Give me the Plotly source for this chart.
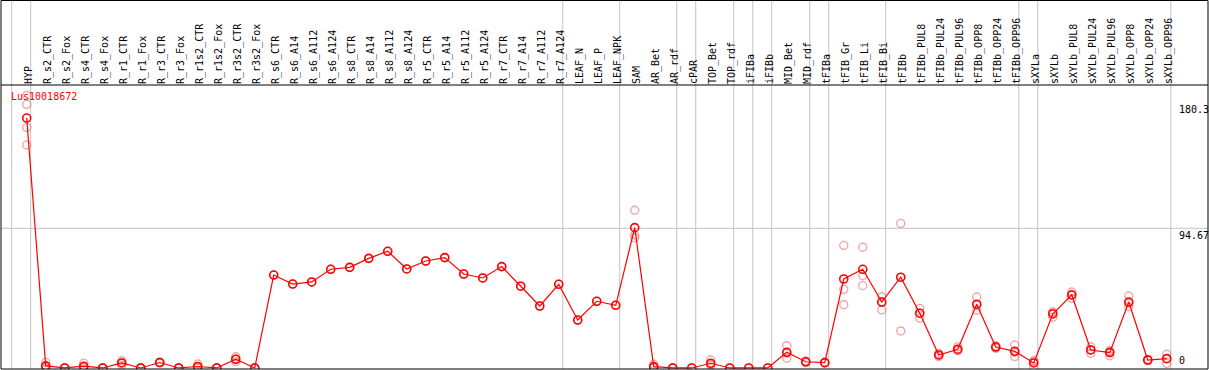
import plotly.graph_objects as go

# ---------------- data ----------------
categories = [
    "HYP",
    "R_s2_CTR", "R_s2_Fox", "R_s4_CTR", "R_s4_Fox", "R_r1_CTR", "R_r1_Fox",
    "R_r3_CTR", "R_r3_Fox", "R_r1s2_CTR", "R_r1s2_Fox", "R_r3s2_CTR", "R_r3s2_Fox",
    "R_s6_CTR", "R_s6_A14", "R_s6_A112", "R_s6_A124",
    "R_s8_CTR", "R_s8_A14", "R_s8_A112", "R_s8_A124",
    "R_r5_CTR", "R_r5_A14", "R_r5_A112", "R_r5_A124",
    "R_r7_CTR", "R_r7_A14", "R_r7_A112", "R_r7_A124",
    "LEAF_N", "LEAF_P", "LEAF_NPK",
    "SAM", "AR_Bet", "AR_rdf",
    "cPAR",
    "TOP_Bet", "TOP_rdf",
    "iFIBa", "iFIBb",
    "MID_Bet", "MID_rdf",
    "tFIBa",
    "tFIB_Gr", "tFIB_Li", "tFIB_Bi",
    "tFIBb", "tFIBb_PUL8", "tFIBb_PUL24", "tFIBb_PUL96",
    "tFIBb_OPP8", "tFIBb_OPP24", "tFIBb_OPP96",
    "sXYLa",
    "sXYLb", "sXYLb_PUL8", "sXYLb_PUL24", "sXYLb_PUL96",
    "sXYLb_OPP8", "sXYLb_OPP24", "sXYLb_OPP96",
]

means = [
    169.4,
    1.4, 0.0, 1.2, 0.0, 3.4, 0.0, 3.7, 0.0, 1.0, 0.0, 5.9, 0.0,
    63.0, 56.9, 58.3, 66.9, 68.2, 74.3, 79.1, 67.1,
    72.5, 74.8, 63.7, 61.0, 68.7, 55.4, 42.0, 56.7,
    32.5, 45.2, 42.5,
    95.1, 0.9, 0.0,
    0.0,
    3.2, 0.0,
    0.0, 0.0,
    10.6, 4.2,
    3.6,
    60.3, 66.9, 44.7,
    61.5, 37.1, 8.8, 12.7, 43.2, 14.2, 11.3,
    3.4,
    36.6, 49.5, 12.2, 10.4, 44.7, 5.4, 6.3,
]

replicates = [
    [184.7, 178.7, 163.1, 151.1],
    [3.8, 0.3, 0.1], [0.0, 0.0, 0.0], [3.3, 0.2, 0.1], [0.0, 0.0, 0.0],
    [4.9, 3.5, 1.8], [0.0, 0.0, 0.0], [3.9, 3.7, 3.5], [0.0, 0.0, 0.0],
    [2.7, 0.3, 0.0], [0.0, 0.0, 0.0], [7.6, 5.9, 4.2], [0.0, 0.0, 0.0],
    [63.0], [56.9], [58.3], [66.9], [68.2], [74.3], [79.1], [67.1],
    [72.5], [74.8], [63.7], [61.0], [68.7], [55.4], [42.0], [56.7],
    [32.5], [45.2], [42.5],
    [106.9, 90.1, 88.3], [2.5, 0.2, 0.0], [0.0, 0.0, 0.0],
    [0.0],
    [5.4, 2.4, 1.8], [0.0],
    [0.0], [0.0],
    [15.1, 10.1, 6.6], [4.8, 4.2, 3.6],
    [3.9, 3.6, 3.3],
    [83.1, 53.3, 42.9], [81.8, 62.5, 55.8], [48.3, 44.5, 39.3],
    [98.0, 61.4, 25.1], [40.4, 37.2, 33.7], [9.9, 8.8, 7.7], [14.4, 12.0, 11.7],
    [48.1, 42.4, 39.1], [15.1, 14.2, 13.3], [15.6, 10.6, 7.7],
    [5.0, 4.3, 0.9],
    [37.9, 37.5, 34.4], [51.5, 49.8, 47.2], [14.4, 12.3, 9.9], [11.7, 11.2, 8.3],
    [48.8, 43.8, 41.5], [5.8, 5.4, 5.0], [9.3, 6.3, 3.1],
]

# last category of each group (a separator line follows each)
group_ends = ["HYP", "R_r7_A124", "LEAF_NPK", "AR_rdf", "cPAR", "TOP_rdf",
              "iFIBa", "iFIBb", "MID_rdf", "tFIBa", "tFIB_Bi", "tFIBb_OPP96",
              "sXYLa", "sXYLb_OPP96"]

y_ticks = [0, 94.67, 180.3]
y_tick_text = ["0", "94.67", "180.3"]
gene = "Lus10018672"

# ---------------- figure ----------------
W, H = 1209, 370
ML, MR, MT, MB = 1, 1, 85, 1
plot_h = H - MT - MB
top_extent = 1 + (MT - 0.5) / plot_h

FONT = "DejaVu Sans Mono"
GRID = "#c4c4c4"

rep_x, rep_y = [], []
for c, vals in zip(categories, replicates):
    for v in vals:
        rep_x.append(c)
        rep_y.append(v)

fig = go.Figure()
fig.add_trace(go.Scatter(
    x=rep_x, y=rep_y, mode="markers",
    marker=dict(symbol="circle-open", size=8, color="rgba(232,110,110,0.6)",
                line=dict(width=1.4)),
    showlegend=False, hoverinfo="skip",
))
fig.add_trace(go.Scatter(
    x=categories, y=means, mode="lines+markers",
    line=dict(color="#ff0000", width=1.2),
    marker=dict(symbol="circle-open", size=8, color="#ff0000",
                line=dict(width=1.6)),
    showlegend=False,
))

shapes = []
# separators between groups
sep_positions = [-1 + 0.21] + [categories.index(g) + 0.21 for g in group_ends]
for p in sep_positions:
    shapes.append(dict(type="line", xref="x", yref="paper", x0=p, x1=p,
                       y0=0, y1=top_extent, line=dict(color=GRID, width=1),
                       layer="below"))
# horizontal grid at the middle tick
shapes.append(dict(type="line", xref="paper", yref="y", x0=0, x1=1,
                   y0=y_ticks[1], y1=y_ticks[1], line=dict(color=GRID, width=1),
                   layer="below"))
# frame
shapes.append(dict(type="rect", xref="paper", yref="paper", x0=0, x1=1,
                   y0=0, y1=top_extent, line=dict(color="black", width=1)))
shapes.append(dict(type="line", xref="paper", yref="paper", x0=0, x1=1,
                   y0=1, y1=1, line=dict(color="black", width=1)))

annotations = [dict(
    text=gene, xref="paper", yref="paper", x=8 / (W - ML - MR), y=1 - 12 / plot_h,
    xanchor="left", yanchor="middle", showarrow=False,
    font=dict(family=FONT, size=10, color="#ff0000"),
)]
label_x = (1177 - ML) / (W - ML - MR)
for v, t in zip(y_ticks, y_tick_text):
    annotations.append(dict(
        text=t, xref="paper", yref="y", x=label_x, y=v,
        xanchor="left", yanchor="bottom" if v == 0 else "top",
        showarrow=False, font=dict(family=FONT, size=10, color="black"),
    ))

fig.update_layout(
    width=W, height=H,
    margin=dict(l=ML, r=MR, t=MT, b=MB, pad=0),
    paper_bgcolor="white", plot_bgcolor="white",
    shapes=shapes, annotations=annotations,
    xaxis=dict(
        type="category", categoryorder="array", categoryarray=categories,
        range=[-1.353, 62.17], side="top", tickangle=-90,
        tickfont=dict(family=FONT, size=10, color="black"),
        ticklabelshift=2,
        showgrid=False, zeroline=False, showline=False, ticks="",
        automargin=False,
    ),
    yaxis=dict(
        range=[-0.7, 191.8], showgrid=False, zeroline=False, showline=False,
        showticklabels=False, ticks="",
    ),
)

fig.write_html(
    "out.html",
    config={"displayModeBar": False},
    post_script="document.body.style.margin='0';document.body.style.overflow='hidden';",
)
